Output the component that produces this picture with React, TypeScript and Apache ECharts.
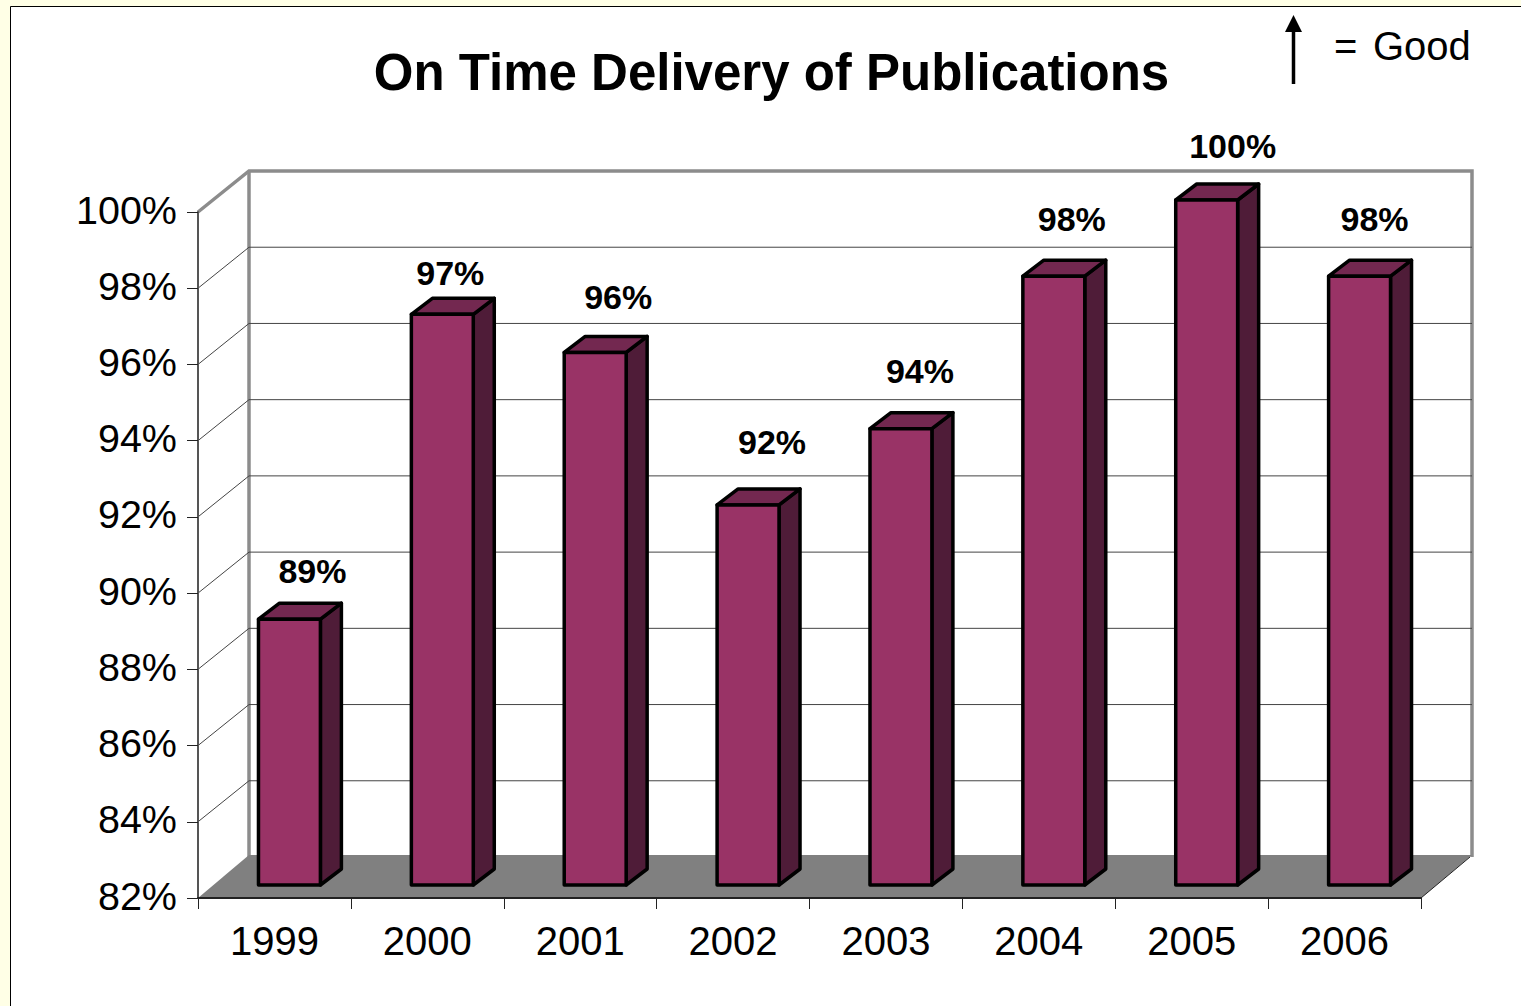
import React, { useEffect, useRef } from "react";
import * as echarts from "echarts";

const titleText = "On Time Delivery of Publications";
const legendSign = "=";
const legendWord = "Good";
const years = ["1999", "2000", "2001", "2002", "2003", "2004", "2005", "2006"];
const onTimePercent = [89, 97, 96, 92, 94, 98, 100, 98];
const gridValues = [84, 86, 88, 90, 92, 94, 96, 98];
const valueMin = 82;
const valueMax = 100;
const valueStep = 2;

const FONT = '"Liberation Sans", Arial, sans-serif';
const WALL = { dx: 51, dy: -41 };
const FLOOR_DY = -43;
const BAR_SHIFT = { dx: 15, dy: -12 };
const BAR_DEPTH = { dx: 21, dy: -16 };
const LABEL_NUDGE: [number, number][] = [
  [23, -48], [8, -41], [23, -55], [24, -63], [19, -58], [18, -57], [26, -54], [15, -57],
];

export default function App() {
  const ref = useRef<HTMLDivElement>(null);
  useEffect(() => {
    const chart = echarts.init(ref.current!, null, { renderer: "svg" });
    const renderRoom = (params: any) => {
      const c = params.coordSys;
      const l = c.x, r = c.x + c.width, t = c.y, b = c.y + c.height;
      const d = WALL;
      const wallLine = { stroke: "#8c8c8c", lineWidth: 3.5, fill: null };
      return {
        type: "group",
        children: [
          { type: "polyline", shape: { points: [[l, t], [l + d.dx, t + d.dy], [r + d.dx, t + d.dy], [r + d.dx, b + d.dy]] }, style: wallLine },
          { type: "line", shape: { x1: l + d.dx, y1: t + d.dy, x2: l + d.dx, y2: b + d.dy }, style: { stroke: "#8c8c8c", lineWidth: 3.5 } },
          { type: "polygon", shape: { points: [[l, b], [l + d.dx, b + FLOOR_DY], [r + d.dx, b + FLOOR_DY], [r, b]] }, style: { fill: "#808080" } },
          { type: "line", shape: { x1: r, y1: b, x2: r + d.dx - 2, y2: b + FLOOR_DY + 2 }, style: { stroke: "#222", lineWidth: 1 } },
        ],
      };
    };
    const renderGridLine = (params: any, api: any) => {
      const c = params.coordSys;
      const y = api.coord([0, api.value(0)])[1];
      const d = WALL;
      return {
        type: "polyline",
        shape: { points: [[c.x, y], [c.x + d.dx, y + d.dy], [c.x + c.width + d.dx, y + d.dy]] },
        style: { stroke: "#444", lineWidth: 1, fill: null },
      };
    };
    const renderBar = (params: any, api: any) => {
      const i = api.value(0);
      const v = api.value(1);
      const w = api.size([1, 0])[0] * 0.405;
      const top = api.coord([i, v]);
      const base = api.coord([i, valueMin]);
      const x1 = top[0] + BAR_SHIFT.dx - w / 2;
      const x2 = x1 + w;
      const y1 = top[1] + BAR_SHIFT.dy;
      const y2 = base[1] + BAR_SHIFT.dy - 1;
      const dx = BAR_DEPTH.dx, dy = BAR_DEPTH.dy;
      const edge = { stroke: "#000", lineWidth: 3.5, lineJoin: "round" };
      const nudge = LABEL_NUDGE[params.dataIndex];
      return {
        type: "group",
        children: [
          { type: "polygon", shape: { points: [[x2, y1], [x2 + dx, y1 + dy], [x2 + dx, y2 + dy], [x2, y2]] }, style: { fill: "#4f1c38", ...edge } },
          { type: "polygon", shape: { points: [[x1, y1], [x1 + dx, y1 + dy], [x2 + dx, y1 + dy], [x2, y1]] }, style: { fill: "#732850", ...edge } },
          { type: "rect", shape: { x: x1, y: y1, width: w, height: y2 - y1 }, style: { fill: "#993366", ...edge } },
          {
            type: "text",
            x: x1 + w / 2 + nudge[0],
            y: y1 + nudge[1],
            style: { text: v + "%", fill: "#000", font: `bold 34px ${FONT}`, textAlign: "center", textVerticalAlign: "middle" },
          },
        ],
      };
    };
    chart.setOption({
      animation: false,
      backgroundColor: "#ffffe6",
      title: {
        text: titleText,
        left: 766.5,
        top: 38,
        textAlign: "center",
        textStyle: { fontFamily: FONT, fontWeight: "bold", fontSize: 51, color: "#000", lineHeight: 58 },
      },
      graphic: [
        { type: "rect", z: -10, shape: { x: 10.5, y: 6.5, width: 1600, height: 1100 }, style: { fill: "#fff", stroke: "#000", lineWidth: 1 } },
        { type: "line", z: 5, shape: { x1: 1293.5, y1: 28, x2: 1293.5, y2: 84 }, style: { stroke: "#000", lineWidth: 3.5 } },
        { type: "polygon", z: 5, shape: { points: [[1293.5, 15], [1302, 32], [1285, 32]] }, style: { fill: "#000" } },
        { type: "text", z: 5, x: 1334, y: 46, style: { text: legendSign, fill: "#000", font: `40px ${FONT}`, textAlign: "left", textVerticalAlign: "middle" } },
        { type: "text", z: 5, x: 1373, y: 46, style: { text: legendWord, fill: "#000", font: `40px ${FONT}`, textAlign: "left", textVerticalAlign: "middle" } },
      ],
      grid: { left: 198, top: 212, width: 1223, height: 686, containLabel: false },
      xAxis: {
        type: "category",
        data: years,
        boundaryGap: true,
        axisLine: { onZero: false, lineStyle: { color: "#222", width: 2 } },
        axisTick: { show: true, alignWithLabel: false, length: 11, lineStyle: { color: "#222", width: 1 } },
        axisLabel: { fontFamily: FONT, fontSize: 40, color: "#000", margin: 23, interval: 0 },
        splitLine: { show: false },
        z: 4,
      },
      yAxis: {
        type: "value",
        min: valueMin,
        max: valueMax,
        interval: valueStep,
        axisLine: { show: true, lineStyle: { color: "#555", width: 2 } },
        axisTick: { show: true, length: 11, lineStyle: { color: "#222", width: 1 } },
        axisLabel: { fontFamily: FONT, fontSize: 39.5, color: "#000", margin: 21, formatter: "{value}%", verticalAlign: "bottom", lineHeight: 5 },
        splitLine: { show: false },
        z: 4,
      },
      series: [
        { type: "custom", name: "room", coordinateSystem: "cartesian2d", renderItem: renderRoom, data: [[0, valueMin]], z: 1, silent: true, encode: { x: 0, y: 1 } },
        { type: "custom", name: "gridlines", coordinateSystem: "cartesian2d", renderItem: renderGridLine, data: gridValues.map((v) => [v]), z: 2, silent: true, encode: { y: 0 } },
        { type: "custom", name: "On time", coordinateSystem: "cartesian2d", renderItem: renderBar, data: onTimePercent.map((v, i) => [i, v]), z: 3, clip: false, encode: { x: 0, y: 1 } },
      ],
    });
    return () => chart.dispose();
  }, []);
  return <div ref={ref} style={{ position: "absolute", left: 0, top: 0, width: 1521, height: 1006 }} />;
}
